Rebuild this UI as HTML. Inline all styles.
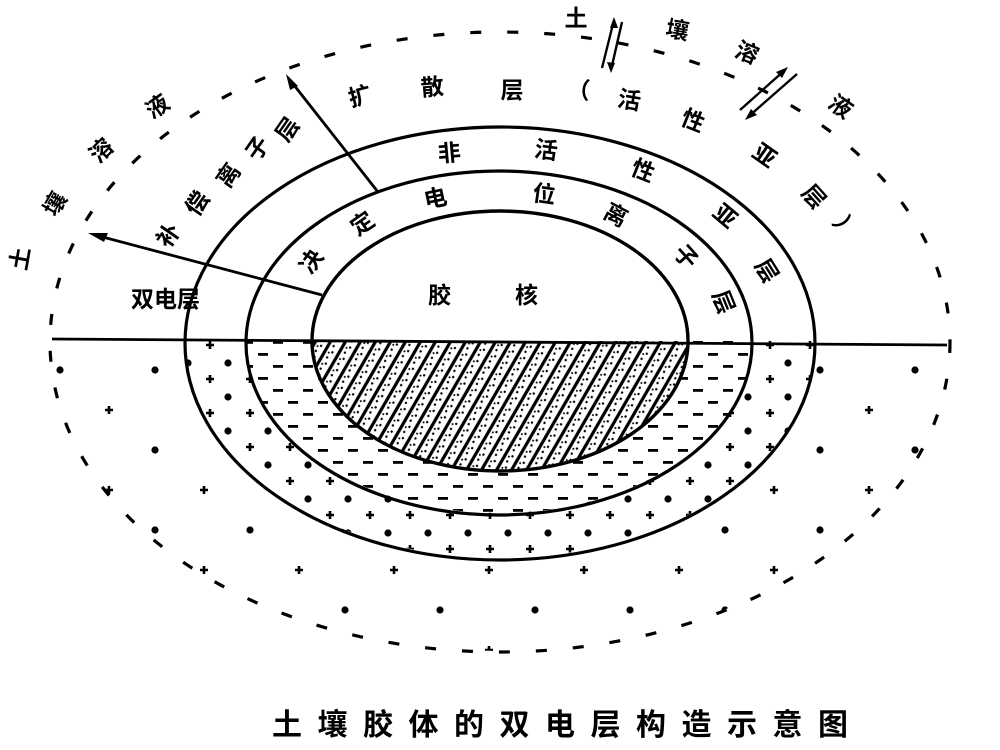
<!DOCTYPE html>
<html><head><meta charset="utf-8"><style>
html,body{margin:0;padding:0;background:#fff;}
svg{display:block;}
text{font-family:"Liberation Sans","Noto Sans CJK SC",sans-serif;font-weight:bold;fill:#000;}
</style></head><body>
<svg width="1000" height="750" viewBox="0 0 1000 750" xmlns="http://www.w3.org/2000/svg">
<defs>
<pattern id="hatch" width="13" height="13" patternUnits="userSpaceOnUse" patternTransform="rotate(30)">
<rect width="13" height="13" fill="#fff"/>
<line x1="2" y1="0" x2="2" y2="13" stroke="#000" stroke-width="3.2"/>
<circle cx="7" cy="3" r="1.2" fill="#000"/><circle cx="9" cy="9" r="1.2" fill="#000"/><circle cx="6" cy="11" r="1" fill="#000"/>
</pattern>
<pattern id="dash" width="30" height="24" patternUnits="userSpaceOnUse">
<rect x="3" y="5" width="10" height="2.8" fill="#000"/><rect x="18" y="17" width="10" height="2.8" fill="#000"/>
</pattern>
<pattern id="dots" width="40" height="34" patternUnits="userSpaceOnUse">
<path d="M6 5h8M10 1v8" stroke="#000" stroke-width="2.6"/><circle cx="28" cy="23" r="3.6" fill="#000"/>
</pattern>
<pattern id="sparse" width="95" height="80" patternUnits="userSpaceOnUse">
<path d="M10 10h8M14 6v8" stroke="#000" stroke-width="2.6"/><circle cx="60" cy="50" r="3.6" fill="#000"/>
</pattern>
</defs>

<path d="M50 341 A450 310 0 0 0 950 341 Z M185 341 A315 217 0 0 0 815 341 Z" fill="url(#sparse)" fill-rule="evenodd"/>
<path d="M185 341 A315 217 0 0 0 815 341 Z M246 341 A253 172 0 0 0 752 341 Z" fill="url(#dots)" fill-rule="evenodd"/>
<path d="M246 341 A253 172 0 0 0 752 341 Z M312 341 A188 129 0 0 0 688 341 Z" fill="url(#dash)" fill-rule="evenodd"/>
<path d="M312 341 A188 129 0 0 0 688 341 Z" fill="url(#hatch)"/>

<ellipse cx="500" cy="342" rx="450" ry="310" fill="none" stroke="#000" stroke-width="3.2" stroke-dasharray="11 26"/>

<path d="M185 343 A315 216 0 0 1 815 343 A315 217 0 0 1 185 343" fill="none" stroke="#000" stroke-width="3.2"/>
<path d="M246 343 A253 172 0 0 1 752 343 A253 172 0 0 1 246 343" fill="none" stroke="#000" stroke-width="3.2"/>
<ellipse cx="500" cy="341" rx="188" ry="130" fill="none" stroke="#000" stroke-width="3.4"/>

<line x1="52" y1="339" x2="947" y2="345" stroke="#000" stroke-width="2.8"/>

<line x1="322" y1="295" x2="95" y2="235" stroke="#000" stroke-width="2.8"/>
<polygon points="88,233 108,233 104,242" fill="#000"/>
<line x1="378" y1="192" x2="290" y2="80" stroke="#000" stroke-width="2.8"/>
<polygon points="286,74 298,86 290,90" fill="#000"/>

<g font-size="23">
<text x="131" y="307">双电层</text>
<text x="428" y="303">胶</text>
<text x="515" y="303">核</text>

<text transform="translate(318,266) rotate(-55)" text-anchor="middle">决</text>
<text transform="translate(367,230) rotate(-35)" text-anchor="middle">定</text>
<text transform="translate(437,206) rotate(-12)" text-anchor="middle">电</text>
<text transform="translate(543,202) rotate(8)" text-anchor="middle">位</text>
<text transform="translate(612,222) rotate(28)" text-anchor="middle">离</text>
<text transform="translate(680,262) rotate(48)" text-anchor="middle">子</text>
<text transform="translate(716,305) rotate(68)" text-anchor="middle">层</text>

<text transform="translate(450,161) rotate(-5)" text-anchor="middle">非</text>
<text transform="translate(545,158) rotate(8)" text-anchor="middle">活</text>
<text transform="translate(640,178) rotate(22)" text-anchor="middle">性</text>
<text transform="translate(720,222) rotate(40)" text-anchor="middle">亚</text>
<text transform="translate(760,275) rotate(58)" text-anchor="middle">层</text>

<text transform="translate(362,104) rotate(-15)" text-anchor="middle">扩</text>
<text transform="translate(433,95) rotate(-5)" text-anchor="middle">散</text>
<text transform="translate(512,98)" text-anchor="middle">层</text>
<text transform="translate(578,98) rotate(5)" text-anchor="middle">（</text>
<text transform="translate(628,108) rotate(10)" text-anchor="middle">活</text>
<text transform="translate(690,128) rotate(22)" text-anchor="middle">性</text>
<text transform="translate(760,162) rotate(35)" text-anchor="middle">亚</text>
<text transform="translate(808,202) rotate(48)" text-anchor="middle">层</text>
<text transform="translate(838,232) rotate(60)" text-anchor="middle">）</text>

<text transform="translate(175,240) rotate(-55)" text-anchor="middle">补</text>
<text transform="translate(204,208) rotate(-55)" text-anchor="middle">偿</text>
<text transform="translate(235,180) rotate(-55)" text-anchor="middle">离</text>
<text transform="translate(264,153) rotate(-55)" text-anchor="middle">子</text>
<text transform="translate(294,134) rotate(-55)" text-anchor="middle">层</text>

<text transform="translate(28,260) rotate(-80)" text-anchor="middle">土</text>
<text transform="translate(62,208) rotate(-60)" text-anchor="middle">壤</text>
<text transform="translate(107,156) rotate(-45)" text-anchor="middle">溶</text>
<text transform="translate(162,113) rotate(-35)" text-anchor="middle">液</text>

<text transform="translate(576,26)" text-anchor="middle">土</text>
<text transform="translate(676,38) rotate(10)" text-anchor="middle">壤</text>
<text transform="translate(744,60) rotate(22)" text-anchor="middle">溶</text>
<text transform="translate(836,113) rotate(35)" text-anchor="middle">液</text>
</g>

<g stroke="#000" stroke-width="2.4">
<line x1="602" y1="68" x2="614" y2="20"/><line x1="611" y1="70" x2="622" y2="22"/>
<polygon points="614,17 610,28 618,28" fill="#000" stroke="none"/>
<polygon points="611,73 607,62 615,63" fill="#000" stroke="none"/>
<line x1="740" y1="110" x2="785" y2="70"/><line x1="748" y1="117" x2="797" y2="74"/>
<polygon points="788,67 776,72 782,78" fill="#000" stroke="none"/>
<polygon points="745,120 751,109 757,115" fill="#000" stroke="none"/>
</g>

<text x="272" y="735" font-size="30" letter-spacing="15.5">土壤胶体的双电层构造示意图</text>
</svg>
</body></html>
